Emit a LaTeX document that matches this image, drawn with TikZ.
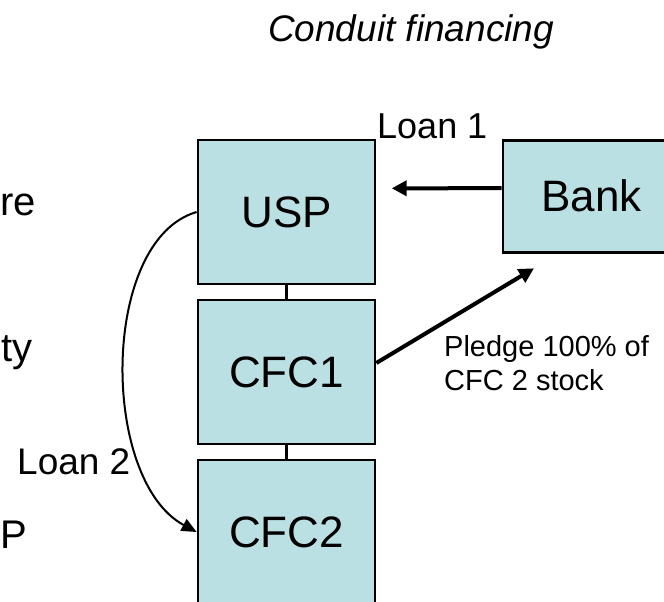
\documentclass[tikz,border=0pt]{standalone}
\usepackage{fontspec}
\setmainfont{Liberation Sans}
\usetikzlibrary{arrows.meta}
\definecolor{boxfill}{HTML}{BBE0E3}
\begin{document}
\begin{tikzpicture}[x=1pt,y=-1pt,
  entity/.style={draw=black, line width=2.7pt, fill=boxfill,
    minimum width=177pt, minimum height=144pt, inner sep=0pt,
    font=\fontsize{44}{50}\selectfont},
  link/.style={line width=3.3pt},
  flow/.style={line width=4pt, -{Triangle[length=15pt,width=15pt]}},
  loop/.style={line width=2pt, -{Triangle[length=15pt,width=13pt]}},
  lbl/.style={inner sep=0pt, font=\fontsize{36}{42}\selectfont},
  side/.style={inner sep=0pt, font=\fontsize{40}{46}\selectfont},
]
\useasboundingbox (0,0) rectangle (664,602);

% title
\node[inner sep=0pt, anchor=base, font=\fontsize{37}{44}\selectfont\itshape]
  (title) at (411,42) {Conduit financing};

% word endings of the neighbouring column at the left edge
\node[side, anchor=base west] (w1) at (0.2,215) {re};
\node[side, anchor=base east] (w2) at (33,361) {ty};
\node[side, anchor=base west] (w3) at (0.2,548) {P};

% ownership chain
\node[entity] (USP)  at (286.5,212) {USP};
\node[entity] (CFC1) at (286.5,372) {CFC1};
\node[entity] (CFC2) at (286.5,532) {CFC2};
\node[entity, minimum height=112pt] (Bank) at (591.5,196.2) {Bank};

\draw[link] (USP.south) -- (CFC1.north);
\draw[link] (CFC1.south) -- (CFC2.north);

% loan from the bank
\coordinate (loanTip) at (391.7,188.3);
\draw[flow] ([yshift=8pt]Bank.west) -- (loanTip);
\node[lbl, anchor=base west] (loan1) at (377,138) {Loan 1};

% pledge of stock
\coordinate (pledgeTip) at (534,268.3);
\draw[flow] ([yshift=9pt]CFC1.east) -- (pledgeTip);
\node[inner sep=0pt, anchor=base west, align=left,
  font=\fontsize{29}{34}\selectfont] (pledge) at (444,390)
  {Pledge 100\% of\\CFC 2 stock};

% on-loan down the chain
\draw[loop] (USP.west) .. controls (100,240) and (100,480) .. (CFC2.west);
\node[lbl, anchor=base west, font=\fontsize{37}{44}\selectfont] (loan2) at (17,474) {Loan 2};
\end{tikzpicture}
\end{document}
